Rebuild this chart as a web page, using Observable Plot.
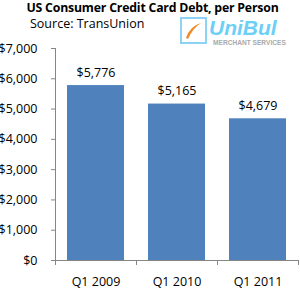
<!DOCTYPE html>
<html><head><meta charset="utf-8">
<script src="https://cdn.jsdelivr.net/npm/d3@7"></script>
<script src="https://cdn.jsdelivr.net/npm/@observablehq/plot@0.6"></script>
<style>
body{margin:0;background:#fff;font-family:"Open Sans",sans-serif;}
#wrap{position:relative;width:300px;height:289px;overflow:hidden;}
#title{position:absolute;left:0;width:300px;top:1px;line-height:14px;text-align:center;font-weight:bold;font-size:12.3px;color:#000;white-space:nowrap;letter-spacing:-0.2px;padding-left:5px;box-sizing:border-box;}
#sub{position:absolute;left:30px;top:17px;line-height:14px;font-size:12.5px;color:#000;}
#logo{position:absolute;left:179px;top:16px;}
</style></head>
<body><div id="wrap">
<div id="title">US Consumer Credit Card Debt, per Person</div>
<div id="sub">Source: TransUnion</div>
<svg id="logo" width="115" height="32">
 <rect x="2" y="2" width="25" height="25" fill="#fff" stroke="#8dd3f3" stroke-width="2"/>
 <path d="M7 22 Q11 10 22 7 Q14 12 9 23 Z" fill="#f08a24"/>
 <text x="30" y="19" font-family="Liberation Sans, Arial" font-weight="bold" font-style="italic" font-size="21" fill="#6ccff6">UniBul</text>
 <text x="34" y="29" font-family="Liberation Sans, Arial" font-weight="bold" font-size="6.6" fill="#a9a9a9">MERCHANT SERVICES</text>
</svg>
<div id="chart" style="position:absolute;left:0;top:0;"></div>
</div>
<script>
const categories = ["Q1 2009", "Q1 2010", "Q1 2011"];
const values = [5776, 5165, 4679];
const labels = ["$5,776", "$5,165", "$4,679"];
const yTicks = [0, 1000, 2000, 3000, 4000, 5000, 6000, 7000];

const data = categories.map((c, i) => ({cat: c, val: values[i], label: labels[i]}));

const chart = Plot.plot({
  width: 300, height: 289,
  marginTop: 48, marginBottom: 29, marginLeft: 55, marginRight: 2,
  style: {fontFamily: "Open Sans, sans-serif", fontSize: "12px", color: "#000", background: "transparent"},
  x: {domain: categories, paddingInner: 0.3, paddingOuter: 0.15, label: null},
  y: {domain: [0, 7000], label: null},
  marks: [
    Plot.barY(data, {x: "cat", y: "val", fill: "#4f81bd"}),
    Plot.text(data, {x: "cat", y: "val", text: "label", dy: -13, fontSize: 12.5, fill: "#000"}),
    Plot.axisY({ticks: yTicks, tickFormat: d => "$" + d3.format(",")(d), tickSize: 4, tickPadding: 14, stroke: "#868686", fontSize: 12.5, fill: "#000"}),
    Plot.axisX({tickSize: 0, tickPadding: 17, fontSize: 12.5, fill: "#000"}),
    Plot.ruleY([0], {stroke: "#868686"})
  ]
});
document.getElementById("chart").appendChild(chart);

// Excel-style axis line and category boundary ticks derived from Plot's scales
const sx = chart.scale("x"), sy = chart.scale("y");
const svg = d3.select(chart);
const y0 = sy.apply(0), yTop = sy.apply(7000);
const g = svg.append("g").attr("stroke", "#868686").attr("shape-rendering", "crispEdges");
const left = sx.range[0];
g.append("line").attr("x1", left + 0.5).attr("x2", left + 0.5).attr("y1", yTop).attr("y2", y0);
const bounds = categories.map(c => sx.apply(c) - (sx.step - sx.bandwidth) / 2);
bounds.push(sx.apply(categories[categories.length - 1]) + sx.bandwidth + (sx.step - sx.bandwidth) / 2);
bounds.forEach(b => g.append("line").attr("x1", b + 0.5).attr("x2", b + 0.5).attr("y1", y0).attr("y2", y0 + 5));
</script>
</body></html>
